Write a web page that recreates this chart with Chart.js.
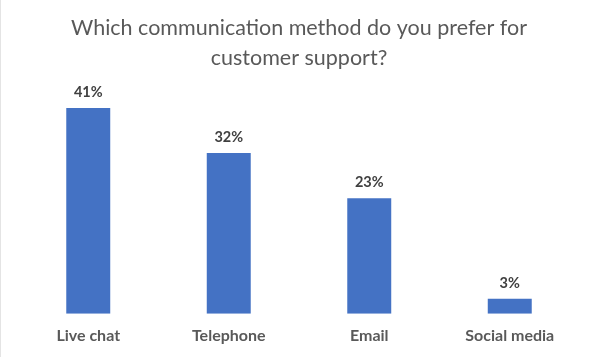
<!DOCTYPE html>
<html>
<head>
<meta charset="utf-8">
<script src="https://cdn.jsdelivr.net/npm/chart.js@4"></script>
<style>
  html, body { margin: 0; padding: 0; background: #fff; }
  #wrap { width: 598px; height: 357px; position: relative; }
  #edge { position: absolute; left: 0; top: 0; width: 1px; height: 357px; background: #e4e4e4; }
</style>
</head>
<body>
<div id="wrap"><canvas id="c" width="598" height="357"></canvas><div id="edge"></div></div>
<script>
const categories = ['Live chat', 'Telephone', 'Email', 'Social media'];
const shares = [41, 32, 23, 3];
const titleLines = ['Which communication method do you prefer for', 'customer support?'];

const FONT = 'Lato, "Open Sans", sans-serif';

const valueLabels = {
  id: 'valueLabels',
  afterDatasetsDraw(chart) {
    const ctx = chart.ctx;
    const meta = chart.getDatasetMeta(0);
    ctx.save();
    ctx.font = 'bold 14.5px ' + FONT;
    ctx.fillStyle = '#404040';
    ctx.textAlign = 'center';
    ctx.textBaseline = 'alphabetic';
    meta.data.forEach((bar, i) => {
      ctx.fillText(shares[i] + '%', bar.x, bar.y - 11);
    });
    ctx.restore();
  }
};

new Chart(document.getElementById('c'), {
  type: 'bar',
  data: {
    labels: categories,
    datasets: [{
      data: shares,
      backgroundColor: '#4472C4',
      borderWidth: 0,
      barPercentage: 0.313,
      categoryPercentage: 1
    }]
  },
  options: {
    responsive: false,
    animation: false,
    devicePixelRatio: 1,
    layout: { padding: { left: 18, right: 18, top: 0, bottom: 0 } },
    plugins: {
      legend: { display: false },
      tooltip: { enabled: false },
      title: {
        display: true,
        text: titleLines,
        color: '#595959',
        font: { family: FONT, size: 21.5, weight: 'normal', lineHeight: 1.38 },
        padding: { top: 13.5, bottom: 15 }
      }
    },
    scales: {
      x: {
        grid: { display: false, drawTicks: false },
        border: { display: false },
        ticks: {
          color: '#595959',
          font: { family: FONT, size: 16, weight: 'bold' },
          padding: 12,
          maxRotation: 0
        }
      },
      y: {
        display: false,
        min: 0,
        max: 45
      }
    }
  },
  plugins: [valueLabels]
});
</script>
</body>
</html>
